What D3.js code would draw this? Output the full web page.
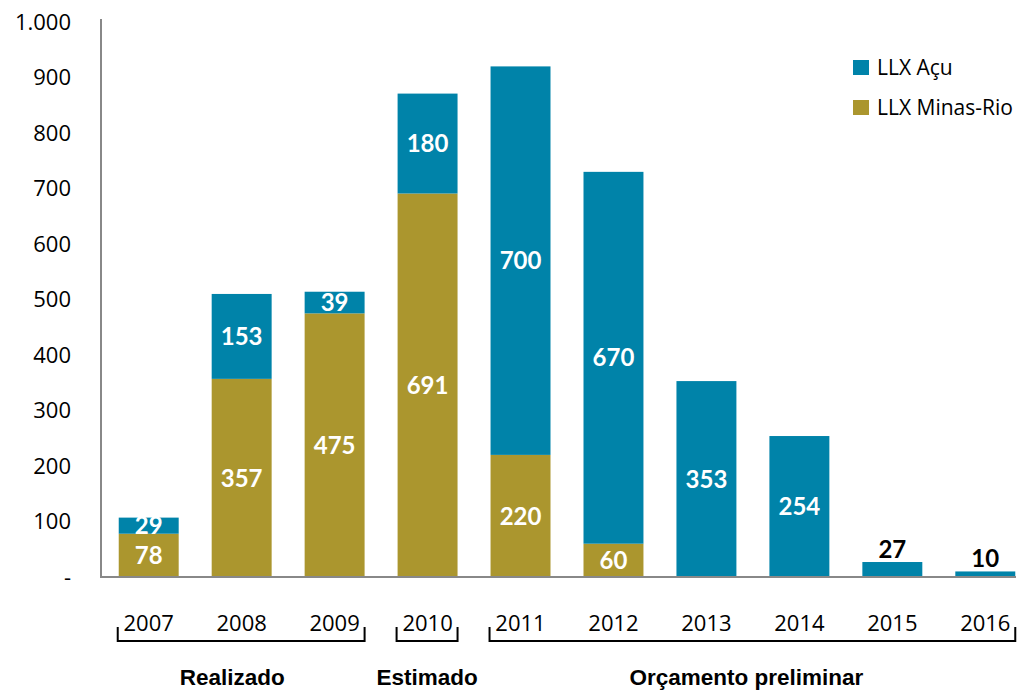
<!DOCTYPE html>
<html lang="en">
<head>
  <meta charset="UTF-8">
  <title>LLX</title>
  <script src="https://d3js.org/d3.v7.min.js"></script>
  <style>
    body { margin: 0; background: #fff; }
    text { font-family: "Open Sans", Lato, sans-serif; }
  </style>
</head>
<body>
  <div id="chart"></div>
  <script>
    const years = ["2007","2008","2009","2010","2011","2012","2013","2014","2015","2016"];
    const minasRio = [78, 357, 475, 691, 220, 60, 0, 0, 0, 0];
    const acu = [29, 153, 39, 180, 700, 670, 353, 254, 27, 10];
    const yTicks = [0, 100, 200, 300, 400, 500, 600, 700, 800, 900, 1000];
    const groups = [
      { label: "Realizado", from: "2007", to: "2009" },
      { label: "Estimado", from: "2010", to: "2010" },
      { label: "Orçamento preliminar", from: "2011", to: "2016" }
    ];
    const seriesNames = ["LLX Açu", "LLX Minas-Rio"];
    const colors = { acu: "#0083a9", minas: "#ab962e" };

    const svg = d3.select("#chart").append("svg")
      .attr("width", 1022).attr("height", 691);

    const x = d3.scaleBand().domain(years).range([102, 1032]).paddingInner(0.355).paddingOuter(0.18);
    const y = d3.scaleLinear().domain([0, 1000]).range([577, 22]);

    // y axis
    const yAxis = svg.append("g").attr("transform", "translate(101,0)")
      .call(d3.axisLeft(y).tickValues(yTicks).tickSize(0).tickPadding(30)
        .tickFormat(d => d === 0 ? "-" : d3.format(",")(d).replace(",", ".")));
    yAxis.select(".domain").remove();
    yAxis.selectAll("text").attr("font-size", 22).attr("fill", "#000")
      .style("font-family", "'Open Sans', sans-serif");

    svg.append("line").attr("x1", 101).attr("x2", 101).attr("y1", 19).attr("y2", 578)
      .attr("stroke", "#888").attr("stroke-width", 2);

    const data = years.map((yr, i) => ({ year: yr, m: minasRio[i], a: acu[i] }));

    // bars
    const bw = x.bandwidth();
    svg.selectAll(".m").data(data.filter(d => d.m > 0)).enter().append("rect")
      .attr("x", d => x(d.year)).attr("width", bw)
      .attr("y", d => y(d.m)).attr("height", d => y(0) - y(d.m))
      .attr("fill", colors.minas);
    svg.selectAll(".a").data(data).enter().append("rect")
      .attr("x", d => x(d.year)).attr("width", bw)
      .attr("y", d => y(d.m + d.a)).attr("height", d => y(d.m) - y(d.m + d.a))
      .attr("fill", colors.acu);

    // x axis line
    svg.append("line").attr("x1", 100).attr("x2", 1016).attr("y1", 577).attr("y2", 577)
      .attr("stroke", "#888").attr("stroke-width", 2);

    // value labels
    svg.selectAll(".ml").data(data.filter(d => d.m > 0)).enter().append("text")
      .attr("x", d => x(d.year) + bw / 2).attr("y", d => (y(0) + y(d.m)) / 2)
      .attr("dy", "0.36em").attr("text-anchor", "middle")
      .attr("font-size", 24).attr("font-weight", "bold").attr("fill", "#fff")
      .style("font-family", "Lato, sans-serif")
      .text(d => d.m);
    svg.selectAll(".al").data(data).enter().append("text")
      .attr("x", d => x(d.year) + bw / 2)
      .attr("y", d => d.m === 0 && d.a < 30 ? y(d.m + d.a) - 13 : (y(d.m) + y(d.m + d.a)) / 2)
      .attr("dy", "0.36em").attr("text-anchor", "middle")
      .attr("font-size", 24).attr("font-weight", "bold")
      .style("font-family", "Lato, sans-serif")
      .attr("fill", d => d.a < 30 && d.m === 0 ? "#000" : "#fff")
      .text(d => d.a);

    // year labels
    svg.selectAll(".yr").data(years).enter().append("text")
      .attr("x", d => x(d) + bw / 2).attr("y", 631)
      .attr("text-anchor", "middle").attr("font-size", 22).attr("fill", "#000")
      .text(d => d);

    // brackets
    groups.forEach(g => {
      const x0 = x(g.from) - 1, x1 = x(g.to) + bw;
      svg.append("path")
        .attr("d", `M${x0},627 V641 H${x1} V627`)
        .attr("fill", "none").attr("stroke", "#000").attr("stroke-width", 2);
      svg.append("text").attr("x", (x0 + x1) / 2 - (g.from === "2007" ? 9 : g.from === "2011" ? 6 : 0)).attr("y", 685)
        .attr("text-anchor", "middle").attr("font-size", 22.5).attr("font-weight", "bold")
        .style("font-family", "'Liberation Sans', Arial, sans-serif")
        .text(g.label);
    });

    // legend
    const leg = svg.append("g");
    [colors.acu, colors.minas].forEach((c, i) => {
      leg.append("rect").attr("x", 853).attr("y", 60 + i * 40).attr("width", 16).attr("height", 15).attr("fill", c);
      leg.append("text").attr("x", 877).attr("y", 75 + i * 40).attr("font-size", 21).attr("fill", "#000")
        .text(seriesNames[i]);
    });
  </script>
</body>
</html>
